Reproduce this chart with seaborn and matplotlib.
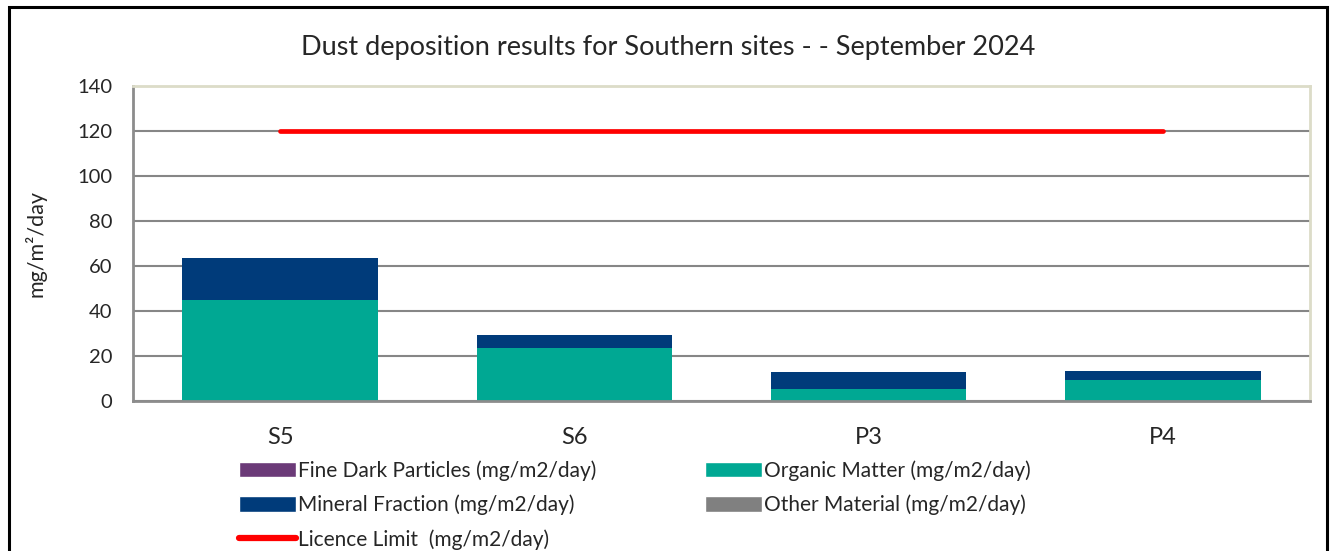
import matplotlib
matplotlib.use("Agg")
import matplotlib.pyplot as plt
import seaborn as sns
import numpy as np
import pandas as pd
from matplotlib.patches import Rectangle, Patch
from matplotlib.lines import Line2D

sites = ["S5", "S6", "P3", "P4"]
fine_dark = [0.0, 0.0, 0.0, 0.0]
organic = [44.9, 23.6, 5.3, 9.3]
mineral = [18.7, 5.7, 7.6, 4.0]
other = [0.0, 0.0, 0.0, 0.0]
licence_limit = [120, 120, 120, 120]
yticks = [0, 20, 40, 60, 80, 100, 120, 140]

labels = ["Fine Dark Particles (mg/m2/day)", "Organic Matter (mg/m2/day)",
          "Mineral Fraction (mg/m2/day)", "Other Material (mg/m2/day)",
          "Licence Limit  (mg/m2/day)"]
colors = {"fine": "#6b3a78", "organic": "#00a893", "mineral": "#003b7a",
          "other": "#808080", "limit": "#ff0000"}

sns.set_style("white")
plt.rcParams["font.family"] = ["Lato", "DejaVu Sans"]

fig = plt.figure(figsize=(13.31, 5.51), dpi=100)
ax = fig.add_axes([133/1331, 1-401/551, (1310-133)/1331, (401-86)/551])

df = pd.DataFrame({"site": sites, "fine": fine_dark, "organic": organic,
                   "mineral": mineral, "other": other})
df["c_fine"] = df["fine"]
df["c_org"] = df["c_fine"] + df["organic"]
df["c_min"] = df["c_org"] + df["mineral"]
df["c_oth"] = df["c_min"] + df["other"]

for col, c in [("c_oth", colors["other"]), ("c_min", colors["mineral"]),
               ("c_org", colors["organic"]), ("c_fine", colors["fine"])]:
    sns.barplot(data=df, x="site", y=col, color=c, width=0.665, ax=ax,
                saturation=1, linewidth=0, zorder=2)

sns.pointplot(x=sites, y=licence_limit, color=colors["limit"], markers="",
              linewidth=3.4, ax=ax, zorder=3)
for ln in ax.lines:
    ln.set_solid_capstyle("round")

ax.set_ylim(0, 140)
ax.set_xlim(-0.5, 3.5)
ax.set_yticks(yticks)
ax.set_yticklabels([str(v) for v in yticks], fontsize=14.5)
ax.tick_params(axis="x", labelsize=17, pad=19, length=0)
ax.tick_params(axis="y", length=0, pad=15)
ax.set_xlabel("")
ax.set_ylabel("mg/m²/day", fontsize=15.5, labelpad=22)
ax.yaxis.grid(True, color="#868686", linewidth=1.5, zorder=0)
ax.set_axisbelow(True)
for s in ["left", "bottom"]:
    ax.spines[s].set_color("#8c8c8c")
    ax.spines[s].set_linewidth(2)
for s in ["top", "right"]:
    ax.spines[s].set_color("#dcdcc8")
    ax.spines[s].set_linewidth(2)

fig.text(668/1331, 1-47/551, "Dust deposition results for Southern sites - - September 2024",
         ha="center", va="center", fontsize=19.5)

handles = [Patch(facecolor=colors["fine"]), Patch(facecolor=colors["mineral"]),
           Line2D([0], [0], color=colors["limit"], linewidth=4.5, solid_capstyle="round"),
           Patch(facecolor=colors["organic"]), Patch(facecolor=colors["other"])]
hl = [labels[0], labels[2], labels[4], labels[1], labels[3]]
leg = fig.legend(handles, hl, ncol=2, loc="upper left",
                 bbox_to_anchor=(231/1331, 1-452/551), frameon=False, fontsize=15,
                 handlelength=2.7, handleheight=0.75, handletextpad=0.1,
                 columnspacing=5.25, labelspacing=0.66, borderaxespad=0)

fig.patches.append(Rectangle((8.5/1331, -0.05), (1327-8.5)/1331, 1.05 - 7.5/551,
                             transform=fig.transFigure, fill=False,
                             edgecolor="black", linewidth=2.2))

fig.savefig("out.png", dpi=100, facecolor="white")
